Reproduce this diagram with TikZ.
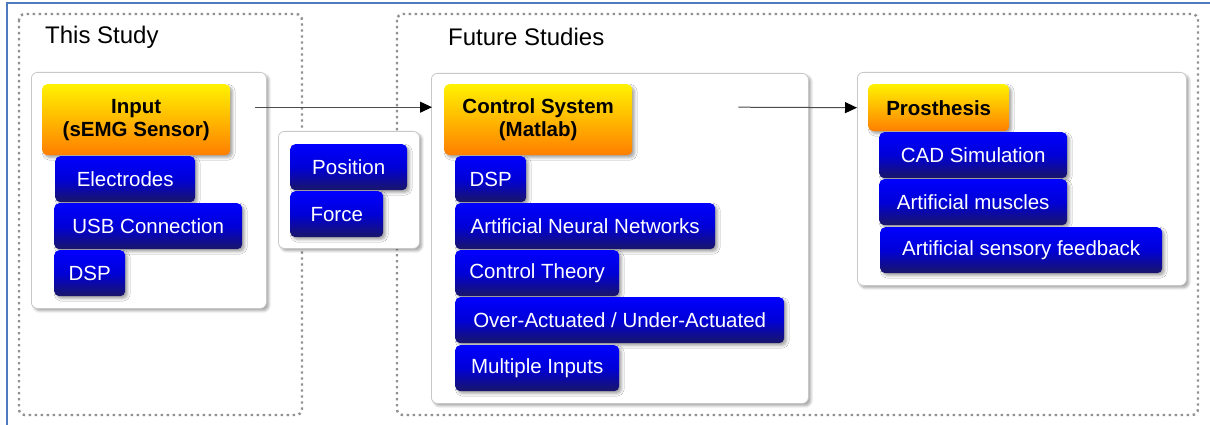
\documentclass[tikz,border=0pt]{standalone}
\usepackage{fontspec}
\setmainfont{Liberation Sans}
\usetikzlibrary{shadows.blur,arrows.meta}

\definecolor{frameblue}{RGB}{79,122,190}
\definecolor{itemtop}{RGB}{0,0,255}
\definecolor{itemmid}{RGB}{0,0,215}
\definecolor{itembot}{RGB}{26,22,104}
\definecolor{headtop}{RGB}{255,242,0}
\definecolor{headbot}{RGB}{255,126,0}
\definecolor{panelrule}{RGB}{200,200,200}
\definecolor{dotgray}{RGB}{145,145,145}

\tikzset{
  x=1pt, y=-1pt,
  softshadow/.style={blur shadow={shadow xshift=2.5pt, shadow yshift=-2.5pt,
      shadow blur steps=6, shadow blur radius=2.5pt, shadow opacity=35}},
  item/.style={anchor=north west, rounded corners=5pt, inner sep=0pt,
      top color=itemtop, bottom color=itembot, middle color=itemmid, text=white,
      font=\fontsize{20.5}{23}\selectfont, softshadow},
  head/.style={anchor=north west, rounded corners=5pt, inner sep=0pt,
      top color=headtop, bottom color=headbot, text=black, align=center,
      font=\fontsize{20.5}{23}\selectfont\bfseries, softshadow},
  panel/.style={anchor=north west, rounded corners=6pt, inner sep=0pt,
      fill=white, draw=panelrule, line width=0.8pt, softshadow},
  zone/.style={draw=dotgray, line width=2.4pt, dash pattern=on 2.4pt off 3.6pt,
      rounded corners=6pt},
  zonetitle/.style={anchor=west, inner sep=0pt, font=\fontsize{24}{28}\selectfont},
  flow/.style={draw=black!70, line width=1pt,
      -{Triangle[length=12pt,width=11pt,fill=black,color=black]}},
}

\begin{document}
\begin{tikzpicture}
\useasboundingbox (0,0) rectangle (1210,425);

% outer frame edges
\draw[frameblue, line width=2.5pt] (7,425) -- (7,3) -- (1210,3);

% dotted study zones
\draw[zone] (19,14) rectangle (302,415);
\draw[zone] (397,14) rectangle (1198,415);
\node[zonetitle] (t1) at (45,37) {This Study};
\node[zonetitle] (t2) at (448,37) {Future Studies};

% white panels
\node[panel, minimum width=235pt, minimum height=236pt] (p1) at (31,72) {};
\node[panel, minimum width=141pt, minimum height=117pt] (p2) at (278,131) {};
\node[panel, minimum width=377pt, minimum height=330pt] (p3) at (431,73) {};
\node[panel, minimum width=329pt, minimum height=213pt] (p4) at (857,72) {};

% input group
\node[head, minimum width=188pt, minimum height=71pt] (inp) at (42,84) {Input\\(sEMG Sensor)};
\node[item, minimum width=140pt, minimum height=46pt] (elec) at (55,156) {Electrodes};
\node[item, minimum width=188pt, minimum height=46pt] (usb) at (54,203) {USB Connection};
\node[item, minimum width=71pt, minimum height=46pt] (dspa) at (54,250) {DSP};

% measured quantities
\node[item, minimum width=117pt, minimum height=46pt] (pos) at (290,144) {Position};
\node[item, minimum width=93pt, minimum height=46pt] (force) at (290,191) {Force};

% control group
\node[head, minimum width=188pt, minimum height=71pt] (ctl) at (444,84) {Control System\\(Matlab)};
\node[item, minimum width=71pt, minimum height=46pt] (dspb) at (455,156) {DSP};
\node[item, minimum width=260pt, minimum height=46pt] (ann) at (455,203) {Artificial Neural Networks};
\node[item, minimum width=164pt, minimum height=46pt] (ct) at (455,250) {Control Theory};
\node[item, minimum width=329pt, minimum height=46pt] (act) at (455,297) {Over-Actuated / Under-Actuated};
\node[item, minimum width=164pt, minimum height=46pt] (multi) at (455,345) {Multiple Inputs};

% prosthesis group
\node[head, minimum width=141pt, minimum height=47pt] (pro) at (868,84) {Prosthesis};
\node[item, minimum width=188pt, minimum height=46pt] (cad) at (879,132) {CAD Simulation};
\node[item, minimum width=188pt, minimum height=46pt] (musc) at (879,179) {Artificial muscles};
\node[item, minimum width=282pt, minimum height=46pt] (sens) at (880,227) {Artificial sensory feedback};

% flow arrows
\draw[flow] ([xshift=25pt,yshift=12.5pt]inp.east) -- ([xshift=-12pt,yshift=12.5pt]ctl.west);
\draw[flow] ([xshift=106pt,yshift=12.5pt]ctl.east) -- ([xshift=-11pt]pro.west);
\end{tikzpicture}
\end{document}
